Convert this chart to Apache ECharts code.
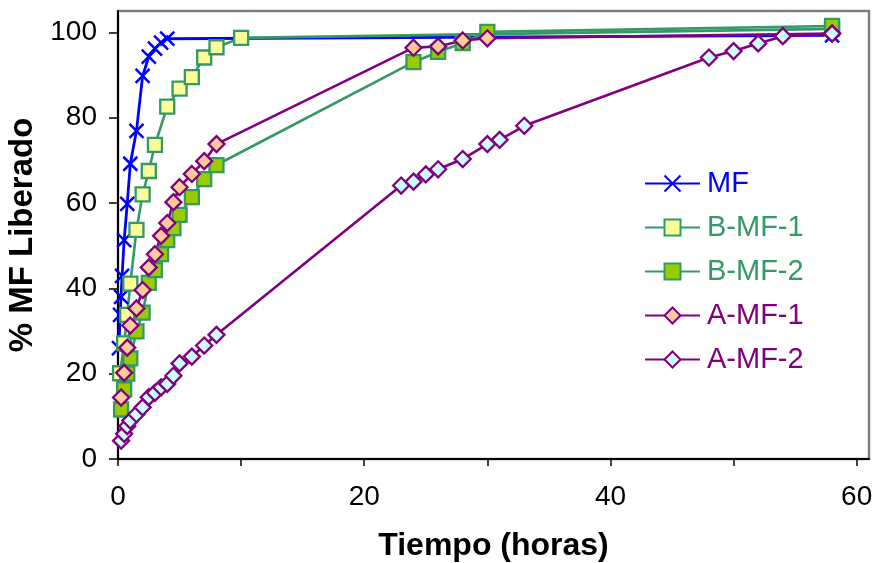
<!DOCTYPE html>
<html>
<head>
<meta charset="utf-8">
<script src="https://cdn.jsdelivr.net/npm/echarts@6/dist/echarts.min.js"></script>
<style>
html,body{margin:0;padding:0;background:#fff;}
#chart{width:873px;height:563px;}
</style>
</head>
<body>
<div id="chart"></div>
<script>
// ---- data ----
const seriesNames = ['MF', 'B-MF-1', 'B-MF-2', 'A-MF-1', 'A-MF-2'];

const mfTime = [0.08, 0.17, 0.25, 0.33, 0.5, 0.75, 1, 1.5, 2, 2.5, 3, 3.5, 4, 58];
const mfValue = [26, 33.8, 38, 42.9, 51.3, 59.8, 69.2, 76.9, 89.8, 94.3, 96.2, 97.6, 98.5, 99.3];

const bmf1Time = [0.17, 0.5, 0.75, 1, 1.5, 2, 2.5, 3, 4, 5, 6, 7, 8, 10, 58];
const bmf1Value = [20.1, 27.1, 33.8, 41.1, 53.7, 62, 67.5, 73.6, 82.6, 86.8, 89.5, 94.1, 96.5, 98.7, 100.8];

const bmf2Time = [0.25, 0.5, 0.75, 1, 1.5, 2, 2.5, 3, 3.5, 4, 4.5, 5, 6, 7, 8, 24, 26, 28, 30, 58];
const bmf2Value = [11.6, 16.3, 20, 23.6, 29.9, 34.3, 41.3, 44.3, 48, 51.3, 54.1, 57.2, 61.4, 65.6, 68.9, 93, 95.4, 97.5, 100.1, 101.5];

const amf1Time = [0.25, 0.5, 0.75, 1, 1.5, 2, 2.5, 3, 3.5, 4, 4.5, 5, 6, 7, 8, 24, 26, 28, 30, 58];
const amf1Value = [14.4, 20.2, 26.1, 31.3, 35.3, 39.6, 44.9, 48, 52.3, 55.3, 60.2, 63.7, 66.8, 69.8, 73.8, 96.4, 96.7, 98.1, 98.6, 99.7];

const amf2Time = [0.25, 0.5, 0.75, 1, 1.5, 2, 2.5, 3, 3.5, 4, 4.5, 5, 6, 7, 8, 23, 24, 25, 26, 28, 30, 31, 33, 48, 50, 52, 54, 58];
const amf2Value = [4.3, 5.9, 7.7, 9.0, 10.5, 12.1, 14.5, 15.5, 16.8, 17.6, 19.5, 22.4, 24, 26.6, 29.1, 64.1, 65, 66.7, 67.9, 70.3, 73.8, 74.8, 78.1, 94.1, 95.6, 97.4, 99.1, 99.7];

const xTickValues = [0, 10, 20, 30, 40, 50, 60];
const xLabelValues = [0, 20, 40, 60];
const yTickValues = [0, 20, 40, 60, 80, 100];

// ---- styling ----
const FONT = "'Liberation Sans', Arial, sans-serif";
const BLUE = '#0000FF', GREEN = '#339966', PURPLE = '#800080';

function zip(t, v) { return t.map((x, i) => [x, v[i]]); }

function mk(name, t, v, lineColor, symbol, size, fill, border, lw) {
  return {
    name: name,
    type: 'line',
    data: zip(t, v),
    symbol: symbol,
    symbolSize: size,
    showAllSymbol: true,
    lineStyle: { color: lineColor, width: lw },
    itemStyle: { color: fill, borderColor: border, borderWidth: 2.3 },
    emphasis: { disabled: true },
    animation: false
  };
}

const series = [
  mk('MF', mfTime, mfValue, BLUE, 'path://M0,0L10,10M10,0L0,10', 14, BLUE, BLUE, 2.8),
  mk('B-MF-1', bmf1Time, bmf1Value, GREEN, 'rect', 14, '#FFFF99', GREEN, 2.6),
  mk('B-MF-2', bmf2Time, bmf2Value, GREEN, 'rect', 14, '#99CC00', GREEN, 2.6),
  mk('A-MF-1', amf1Time, amf1Value, PURPLE, 'diamond', 16, '#FFCC99', PURPLE, 2.6),
  mk('A-MF-2', amf2Time, amf2Value, PURPLE, 'diamond', 16, '#CCFFFF', PURPLE, 2.6)
];
series[0].itemStyle.borderWidth = 2.5;

const legendColors = [BLUE, GREEN, GREEN, PURPLE, PURPLE];

const chart = echarts.init(document.getElementById('chart'), null, { renderer: 'canvas' });
chart.setOption({
  backgroundColor: '#fff',
  animation: false,
  grid: {
    left: 118, right: 4, top: 11, bottom: 104,
    outerBoundsMode: 'none',
    containLabel: false,
    show: true, borderColor: '#7f7f7f', borderWidth: 2.5, backgroundColor: '#fff'
  },
  legend: {
    orient: 'vertical',
    left: 639, top: 164,
    itemWidth: 55, itemHeight: 20, itemGap: 15,
    data: seriesNames.map((n, i) => ({ name: n, textStyle: { color: legendColors[i] } })),
    textStyle: { fontFamily: FONT, fontSize: 29, lineHeight: 29, padding: [0, 0, 0, 2] },
    selectedMode: false
  },
  xAxis: {
    type: 'value', min: 0, max: 61,
    name: 'Tiempo (horas)', nameLocation: 'middle', nameGap: 71,
    nameTextStyle: { fontFamily: FONT, fontSize: 32, fontWeight: 'bold', color: '#000', verticalAlign: 'top' },
    axisLine: { show: true, onZero: false, lineStyle: { color: '#000', width: 2 } },
    axisTick: { show: true, customValues: xTickValues, length: 7, lineStyle: { color: '#000', width: 1.5 } },
    axisLabel: { customValues: xLabelValues, margin: 24, fontFamily: FONT, fontSize: 28, color: '#000' },
    splitLine: { show: false }
  },
  yAxis: {
    type: 'value', min: 0, max: 105,
    name: '% MF Liberado', nameLocation: 'middle', nameGap: 70,
    nameTextStyle: { fontFamily: FONT, fontSize: 33, fontWeight: 'bold', color: '#000' },
    axisLine: { show: true, onZero: false, lineStyle: { color: '#000', width: 2 } },
    axisTick: { show: true, customValues: yTickValues, length: 9, lineStyle: { color: '#000', width: 1.5 } },
    axisLabel: { customValues: yTickValues, margin: 21, fontFamily: FONT, fontSize: 28, color: '#000' },
    splitLine: { show: false }
  },
  series: series
});
</script>
</body>
</html>
